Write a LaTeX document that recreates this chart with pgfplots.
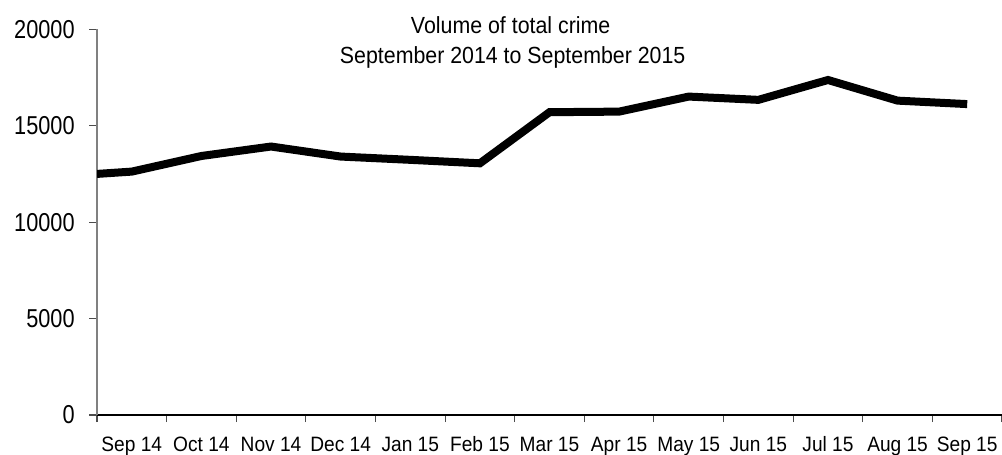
\documentclass[border=0pt]{standalone}
\usepackage{fontspec}
\setmainfont{Liberation Sans}
\newfontfamily\ytickfont{Liberation Sans}[FakeStretch=0.84]
\newfontfamily\xtickfont{Liberation Sans}[FakeStretch=0.92]
\newfontfamily\titlefont{Liberation Sans}[FakeStretch=0.915]
\usepackage{pgfplots}
\pgfplotsset{compat=1.18}
\begin{document}
\begin{tikzpicture}
\useasboundingbox (0,0) rectangle (751.5pt,340.5pt);
\begin{axis}[
  at={(72.75pt,29.25pt)}, anchor=south west,
  scale only axis, width=678.75pt, height=289.3pt,
  xmin=-0.5, xmax=12.5, ymin=0, ymax=20000,
  axis x line*=bottom, axis y line*=left,
  x axis line style={-, black, line width=0.8pt},
  y axis line style={-, gray, line width=0.8pt},
  tick align=outside,
  scaled y ticks=false,
  xtick={0,...,12},
  xticklabels={Sep 14,Oct 14,Nov 14,Dec 14,Jan 15,Feb 15,Mar 15,Apr 15,May 15,Jun 15,Jul 15,Aug 15,Sep 15},
  major x tick style={draw=none},
  minor xtick={-0.5,0.5,...,12.5},
  minor x tick style={gray!60!black, line width=0.8pt},
  minor tick length=5.25pt,
  major tick length=6pt,
  ytick={0,5000,10000,15000,20000},
  yticklabels={0,5000,10000,15000,20000},
  major y tick style={gray!60!black, line width=0.8pt},
  xticklabel style={font=\xtickfont\fontsize{15.6}{18}\selectfont, anchor=base, inner sep=0pt, yshift=-21pt},
  yticklabel style={font=\ytickfont\fontsize{19.4}{22}\selectfont, anchor=east, inner sep=0pt, xshift=-10.6pt},
  /pgf/number format/assume math mode=true,
]
\addplot[black, line width=6pt] coordinates {
  (-0.5,12500) (0,12620) (1,13430) (2,13920) (3,13400) (4,13230) (5,13050)
  (6,15700) (7,15730) (8,16510) (9,16340) (10,17370) (11,16300) (12,16120)
};
\end{axis}
\node[anchor=base, font=\titlefont\fontsize{17.5}{21}\selectfont] at (383pt,315.5pt) {Volume of total crime};
\node[anchor=base, font=\titlefont\fontsize{17.5}{21}\selectfont] at (384.5pt,293pt) {September 2014 to September 2015};
\end{tikzpicture}
\end{document}
